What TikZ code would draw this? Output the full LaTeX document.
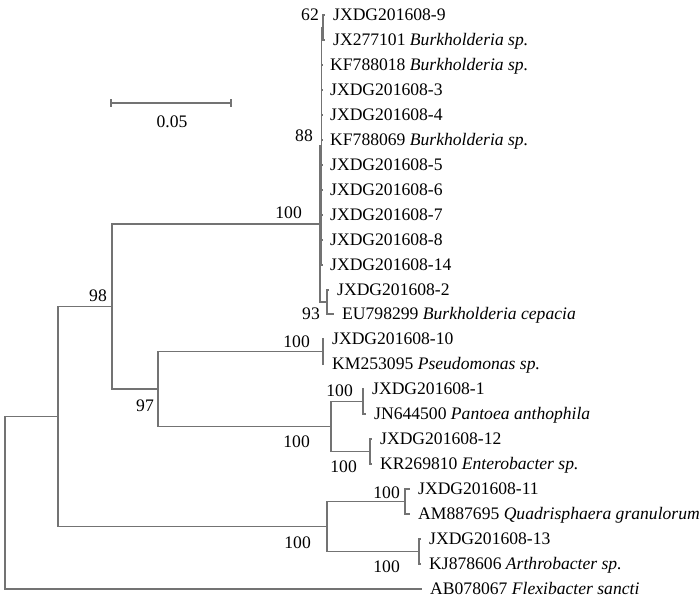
\documentclass[tikz,border=0pt]{standalone}
\usepackage{fontspec}
\setmainfont{Liberation Serif}
\begin{document}
\begin{tikzpicture}[x=1pt,y=-1pt,
  br/.style={draw=black!55, line width=1.1pt},
  leaf/.style={anchor=base west, inner sep=0pt, xshift=8pt, yshift=-5.9pt, font=\fontsize{17.6}{17.6}\selectfont},
  bs/.style={anchor=east, inner sep=0pt, font=\fontsize{17.6}{17.6}\selectfont}]
\useasboundingbox (0,0) rectangle (700,599);
% internal nodes
\coordinate (root) at (5,502.75);
\coordinate (n58) at (58,416.5);
\coordinate (n98) at (112,306.5);
\coordinate (n97) at (158,389);
\coordinate (nB) at (320,224);
\coordinate (n88) at (321.5,146);
\coordinate (n62) at (323,27.5);
\coordinate (n93) at (327,302);
\coordinate (nPs) at (323,351.5);
\coordinate (nEn) at (331,426.5);
\coordinate (nE1) at (363,401.5);
\coordinate (nE2) at (370,451.5);
\coordinate (nAc) at (327,526.5);
\coordinate (nA1) at (405,501.5);
\coordinate (nA2) at (419,551.5);
% tips
\coordinate (p1) at (325,15);
\coordinate (p2) at (325,40);
\coordinate (p3) at (322,65);
\coordinate (p4) at (322,90);
\coordinate (p5) at (322,115);
\coordinate (p6) at (322,140);
\coordinate (p7) at (322,165);
\coordinate (p8) at (322,190);
\coordinate (p9) at (322,215);
\coordinate (p10) at (322,240);
\coordinate (p11) at (322,265);
\coordinate (p12) at (329,290);
\coordinate (p13) at (334,314);
\coordinate (p14) at (324,339);
\coordinate (p15) at (324,364);
\coordinate (p16) at (364,389);
\coordinate (p17) at (366,414);
\coordinate (p18) at (372,439);
\coordinate (p19) at (372,464);
\coordinate (p20) at (410,489);
\coordinate (p21) at (410,514);
\coordinate (p22) at (421,539);
\coordinate (p23) at (421,564);
\coordinate (p24) at (422,589);
% labels
\node[leaf] (t1) at (p1) {JXDG201608-9};
\node[leaf] (t2) at (p2) {JX277101 \textit{Burkholderia sp.}};
\node[leaf] (t3) at (p3) {KF788018 \textit{Burkholderia sp.}};
\node[leaf] (t4) at (p4) {JXDG201608-3};
\node[leaf] (t5) at (p5) {JXDG201608-4};
\node[leaf] (t6) at (p6) {KF788069 \textit{Burkholderia sp.}};
\node[leaf] (t7) at (p7) {JXDG201608-5};
\node[leaf] (t8) at (p8) {JXDG201608-6};
\node[leaf] (t9) at (p9) {JXDG201608-7};
\node[leaf] (t10) at (p10) {JXDG201608-8};
\node[leaf] (t11) at (p11) {JXDG201608-14};
\node[leaf] (t12) at (p12) {JXDG201608-2};
\node[leaf] (t13) at (p13) {EU798299 \textit{Burkholderia cepacia}};
\node[leaf] (t14) at (p14) {JXDG201608-10};
\node[leaf] (t15) at (p15) {KM253095 \textit{Pseudomonas sp.}};
\node[leaf] (t16) at (p16) {JXDG201608-1};
\node[leaf] (t17) at (p17) {JN644500 \textit{Pantoea anthophila}};
\node[leaf] (t18) at (p18) {JXDG201608-12};
\node[leaf] (t19) at (p19) {KR269810 \textit{Enterobacter sp.}};
\node[leaf] (t20) at (p20) {JXDG201608-11};
\node[leaf] (t21) at (p21) {AM887695 \textit{Quadrisphaera granulorum}};
\node[leaf] (t22) at (p22) {JXDG201608-13};
\node[leaf] (t23) at (p23) {KJ878606 \textit{Arthrobacter sp.}};
\node[leaf] (t24) at (p24) {AB078067 \textit{Flexibacter sancti}};
% branches
\draw[br] (root) |- (n58);
\draw[br] (root) |- (p24);
\draw[br] (n58) |- (n98);
\draw[br] (n58) |- (nAc);
\draw[br] (n98) |- (nB);
\draw[br] (n98) |- (n97);
\draw[br] (nB) |- (n88);
\draw[br] (nB) |- (n93);
\draw[br] (n88) |- (n62);
\foreach \i in {3,...,11} {\draw[br] (n88) |- (p\i);}
\draw[br] (n62) |- (p1);
\draw[br] (n62) |- (p2);
\draw[br] (n93) |- (p12);
\draw[br] (n93) |- (p13);
\draw[br] (n97) |- (nPs);
\draw[br] (n97) |- (nEn);
\draw[br] (nPs) |- (p14);
\draw[br] (nPs) |- (p15);
\draw[br] (nEn) |- (nE1);
\draw[br] (nEn) |- (nE2);
\draw[br] (nE1) |- (p16);
\draw[br] (nE1) |- (p17);
\draw[br] (nE2) |- (p18);
\draw[br] (nE2) |- (p19);
\draw[br] (nAc) |- (nA1);
\draw[br] (nAc) |- (nA2);
\draw[br] (nA1) |- (p20);
\draw[br] (nA1) |- (p21);
\draw[br] (nA2) |- (p22);
\draw[br] (nA2) |- (p23);
% bootstrap values
\node[bs] (b62) at (319,15) {62};
\node[bs] (b88) at (313,136) {88};
\node[bs] (b100a) at (302,213) {100};
\node[bs] (b93) at (320,314) {93};
\node[bs] (b100b) at (310,342) {100};
\node[bs] (b98) at (107,296) {98};
\node[bs] (b97) at (154,406) {97};
\node[bs] (b100c) at (310,442) {100};
\node[bs] (b100d) at (353,391) {100};
\node[bs] (b100e) at (357,467) {100};
\node[bs] (b100f) at (400,493) {100};
\node[bs] (b100g) at (311,543) {100};
\node[bs] (b100h) at (400,567) {100};
% scale bar
\coordinate (s1) at (111,103);
\coordinate (s2) at (231,103);
\draw[br] (s1) -- (s2);
\draw[br] ([yshift=3.5pt]s1) -- ([yshift=-3.5pt]s1);
\draw[br] ([yshift=3.5pt]s2) -- ([yshift=-3.5pt]s2);
\node[inner sep=0pt, font=\fontsize{17.6}{17.6}\selectfont] (sl) at (172,122) {0.05};
\end{tikzpicture}
\end{document}
